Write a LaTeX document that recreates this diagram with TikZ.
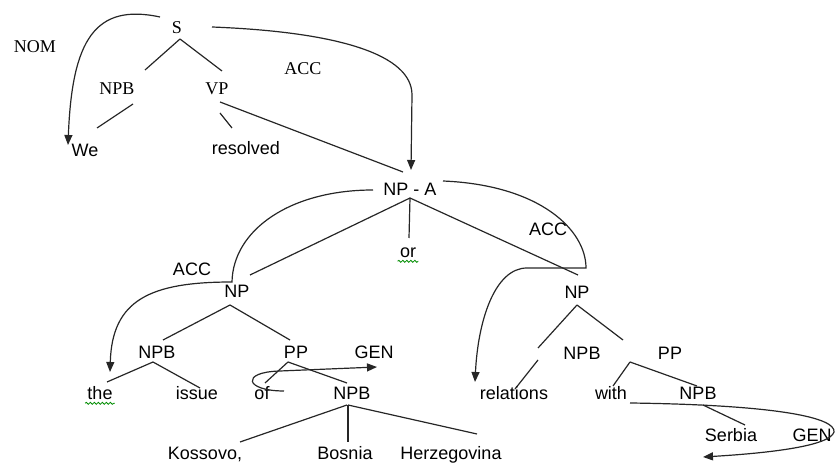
\documentclass[tikz,border=0pt]{standalone}
\usepackage{fontspec}
\newfontfamily\timesfont{Liberation Serif}
\newfontfamily\arialfont{Liberation Sans}
\usetikzlibrary{arrows.meta,decorations.pathmorphing}

\begin{document}
\begin{tikzpicture}
[x=0.5pt,y=-0.5pt%
,every node/.style={font=\fontsize{9}{10}\arialfont,%
                    text height=6.5pt,%
                    text depth=1.8pt,%
                    inner sep=1pt}%
,times/.style={font=\fontsize{9}{10}\timesfont}%
,branch/.style={draw=black!85,line width=0.6pt}%
,casearrow/.style={branch,-{Triangle[length=5pt,width=4pt]}}%
,squiggle/.style={draw=green!55!black,line width=0.4pt,decorate,%
                  decoration={snake,amplitude=0.5pt,segment length=2pt}}]
\useasboundingbox (0,0) rectangle (836,464);
% upper tree
\node[times] (s) at (177,29) {S};
\node[times] (nom) at (35,48) {NOM};
\node[times] (npbA) at (117,90) {NPB};
\node[times] (vp) at (217,90) {VP};
\node[times] (accA) at (303,70) {ACC};
\node (we) at (85,152) {We};
\node (resolved) at (246,150) {resolved};
% coordination
\node (npa) at (410,191) {NP - A};
\node (or) at (408,253) {or};
\node (accB) at (548,231) {ACC};
\node (accC) at (192,271) {ACC};
\node (npL) at (237,293) {NP};
\node (npR) at (577,294) {NP};
% left conjunct
\node (npbL) at (157,354) {NPB};
\node (ppL) at (296,354) {PP};
\node (genA) at (374,354) {GEN};
\node (the) at (100,395) {the};
\node (issue) at (197,395) {issue};
\node (of) at (262,395) {of};
\node (npbK) at (352,395) {NPB};
\node (kos) at (205,455) {Kossovo,};
\node (bos) at (345,455) {Bosnia};
\node (herz) at (451,455) {Herzegovina};
% right conjunct
\node (npbR) at (582,355) {NPB};
\node (ppR) at (670,355) {PP};
\node (rel) at (514,395) {relations};
\node (with) at (611,395) {with};
\node (npbS) at (698,395) {NPB};
\node (serbia) at (731,437) {Serbia};
\node (genB) at (812,437) {GEN};

% branches
\draw[branch] ([shift={(3,10)}]s.center) -- ([shift={(28,-20)}]npbA.center);
\draw[branch] ([shift={(3,10)}]s.center) -- ([shift={(5,-19)}]vp.center);
\draw[branch] ([shift={(16,14)}]npbA.center) -- ([shift={(12,-24)}]we.center);
\draw[branch] ([shift={(3,23)}]vp.center) -- ([shift={(-14,-22)}]resolved.center);
\draw[branch] ([shift={(3,12)}]vp.center) -- ([shift={(-7,-19)}]npa.center);
\draw[branch] ([shift={(0,7)}]npa.center) -- ([shift={(1,-15)}]or.center);
\draw[branch] ([shift={(0,7)}]npa.center) -- ([shift={(13,-18)}]npL.center);
\draw[branch] ([shift={(0,7)}]npa.center) -- ([shift={(1,-19)}]npR.center);
\draw[branch] ([shift={(-7,12)}]npL.center) -- ([shift={(6,-14)}]npbL.center);
\draw[branch] ([shift={(-7,12)}]npL.center) -- ([shift={(-6,-14)}]ppL.center);
\draw[branch] ([shift={(-4,8)}]npbL.center) -- ([shift={(7,-13)}]the.center);
\draw[branch] ([shift={(-4,8)}]npbL.center) -- ([shift={(3,-7)}]issue.center);
\draw[branch] ([shift={(-8,8)}]ppL.center) -- ([shift={(3,-12)}]of.center);
\draw[branch] ([shift={(-8,8)}]ppL.center) -- ([shift={(-5,-12)}]npbK.center);
\draw[branch] ([shift={(-5,10)}]npbK.center) -- ([shift={(35,-13)}]kos.center);
\draw[branch] ([shift={(-4,10)}]npbK.center) -- ([shift={(3,-13)}]bos.center);
\draw[branch] ([shift={(-4,10)}]npbK.center) -- ([shift={(26,-21)}]herz.center);
\draw[branch] ([shift={(0,11)}]npR.center) -- ([shift={(-44,-7)}]npbR.center);
\draw[branch] ([shift={(-44,5)}]npbR.center) -- ([shift={(1,-6)}]rel.center);
\draw[branch] ([shift={(0,11)}]npR.center) -- ([shift={(-47,-15)}]ppR.center);
\draw[branch] ([shift={(-40,7)}]ppR.center) -- ([shift={(2,-9)}]with.center);
\draw[branch] ([shift={(-40,7)}]ppR.center) -- ([shift={(-1,-9)}]npbS.center);
\draw[branch] ([shift={(5,10)}]npbS.center) -- ([shift={(14,-12)}]serbia.center);

% case arrows
\draw[casearrow] ([shift={(-17,-12)}]s.center) .. controls (95,3) and (72,40) .. ([shift={(-17,-7)}]we.center);
\draw[casearrow] ([shift={(35,-2)}]s.center) .. controls (340,32) and (412,55) .. (412,95) -- ([shift={(1,-21)}]npa.center);
\draw[casearrow] ([shift={(-37,-1)}]npa.center) .. controls (290,190) and (233,230) .. ([shift={(-5,-11)}]npL.center)
  .. controls (150,282) and (112,300) .. ([shift={(10,-23)}]the.center);
\draw[casearrow] ([shift={(33,-10)}]npa.center) .. controls (540,185) and (586,230) .. ([shift={(9,-26)}]npR.center)
  -- ([shift={(-50,-26)}]npR.center) .. controls (495,268) and (478,320) .. ([shift={(-39,-13)}]rel.center);
\draw[casearrow] ([shift={(22,-4)}]of.center) .. controls (245,391) and (240,372) .. (280,371) -- ([shift={(3,13)}]genA.center);
\draw[casearrow] ([shift={(19,8)}]with.center) .. controls (780,405) and (836,418) .. (834,432)
  .. controls (830,446) and (770,453) .. ([shift={(-28,20)}]serbia.center);

% spell-check marks
\draw[squiggle] ([yshift=1.2pt]the.south west) -- ([yshift=1.2pt]the.south east);
\draw[squiggle] ([yshift=1.2pt]or.south west) -- ([yshift=1.2pt]or.south east);
\end{tikzpicture}
\end{document}
